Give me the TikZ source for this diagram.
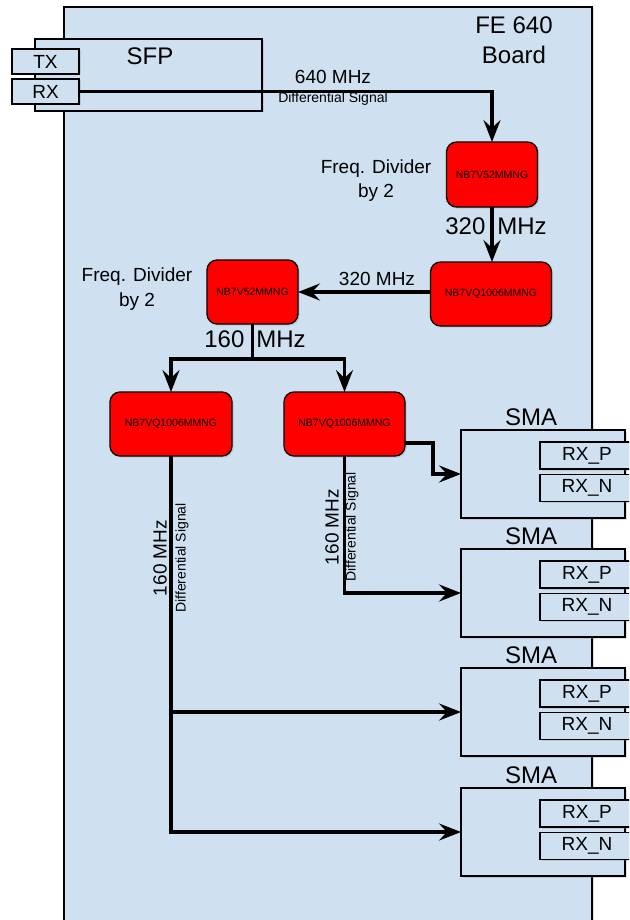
\documentclass[tikz,border=0pt]{standalone}
\usepackage{fontspec}
\setmainfont{Liberation Sans}
\usetikzlibrary{arrows.meta,shadows,calc}
\definecolor{panelblue}{RGB}{207,224,241}
\definecolor{chipred}{RGB}{255,0,0}
\begin{document}
\begin{tikzpicture}[x=1pt,y=-1pt,
  panel/.style={draw=black, line width=1.3pt, fill=panelblue, inner sep=0pt, outer sep=0pt,
    drop shadow={opacity=0.25, shadow xshift=1.5pt, shadow yshift=-1.5pt}},
  port/.style={panel, font=\fontsize{19}{22}\selectfont},
  chip/.style={draw=black, line width=1.3pt, fill=chipred, rounded corners=10pt, inner sep=0pt, outer sep=0pt,
    font=\fontsize{10.5}{12}\selectfont,
    drop shadow={opacity=0.25, shadow xshift=1.5pt, shadow yshift=-1.5pt}},
  bigtxt/.style={font=\fontsize{24}{30}\selectfont, inner sep=0pt},
  midtxt/.style={font=\fontsize{19}{24.5}\selectfont, inner sep=0pt},
  smalltxt/.style={font=\fontsize{14}{16}\selectfont, inner sep=0pt},
  sig/.style={line width=3.5pt, -{Stealth[length=22pt,width=17pt,inset=8pt]}},
  sigline/.style={line width=3.5pt}
]
\useasboundingbox (0,0) rectangle (629,920);
\clip (0,0) rectangle (629,920);

% board
\node[panel, minimum width=528pt, minimum height=930pt] (board) at (328,472) {};
\node[bigtxt, align=center] (title) at (514,40) {FE 640\\Board};

% SFP
\node[panel, minimum width=227pt, minimum height=72pt] (sfp) at (148.5,75) {};
\node[bigtxt] (sfplbl) at (150,56) {SFP};
\node[port, minimum width=67pt, minimum height=25pt] (tx) at (45.5,61.5) {TX};
\node[port, minimum width=67pt, minimum height=25pt] (rx) at (45.5,91.5) {RX};

% chips
\node[chip, minimum width=91pt, minimum height=65pt] (a) at (492,174.5) {NB7V52MMNG};
\node[chip, minimum width=121pt, minimum height=64pt] (b) at (491,294) {NB7VQ1006MMNG};
\node[chip, minimum width=91pt, minimum height=64pt] (c) at (252.5,292) {NB7V52MMNG};
\node[chip, minimum width=122pt, minimum height=64pt] (d) at (171,424) {NB7VQ1006MMNG};
\node[chip, minimum width=121pt, minimum height=64pt] (e) at (344.5,424) {NB7VQ1006MMNG};

% SMA connectors
\foreach \i/\t in {1/430,2/549,3/668,4/788}{
  \node[panel, minimum width=164pt, minimum height=88pt] (sma\i) at (543,\t+44) {};
  \node[bigtxt] (smalbl\i) at (531,\t-13) {SMA};
  \node[port, minimum width=94pt, minimum height=27pt] (rxp\i) at (587,\t+25.5) {RX\_P};
  \node[port, minimum width=94pt, minimum height=27pt] (rxn\i) at (587,\t+58) {RX\_N};
}

% labels
\node[midtxt] (f640) at (333,77) {640 MHz};
\node[smalltxt] (dsig) at (333,99) {Differential Signal};
\node[midtxt, align=center] (fd1) at (376,180.5) {Freq. Divider\\by 2};
\node[bigtxt] (m320a) at (496,226.5) {320\hspace{12pt}MHz};
\node[midtxt] (m320b) at (377,279) {320 MHz};
\node[midtxt, align=center] (fd2) at (137,289) {Freq. Divider\\by 2};
\node[bigtxt] (m160) at (255,339.5) {160\hspace{12pt}MHz};
\node[midtxt, rotate=90] (dl1) at (160,558) {160 MHz};
\node[smalltxt, rotate=90] (dl2) at (182,558) {Differential Signal};
\node[midtxt, rotate=90] (el1) at (332,527) {160 MHz};
\node[smalltxt, rotate=90] (el2) at (352,527) {Differential Signal};

% connectors
\draw[sig] (rx.east) -| (a.north);
\draw[sig] (a.south) -- (a.south |- b.north);
\draw[sig] (b.west |- c.east) -- (c.east);
\coordinate (j) at (c.south |- 0,359);
\draw[sigline] (c.south) -- (j);
\draw[sig] (j) -| (d.north);
\draw[sig] (j) -| (e.north);
\coordinate (eo) at ([yshift=-19pt]e.east);
\draw[sig] (eo) -- ++(28,0) |- (sma1.west);
\draw[sig] (e.south) |- (sma2.west);
\draw[sig] (d.south) |- (sma4.west);
\draw[sig] (d.south |- sma3.west) -- (sma3.west);
\end{tikzpicture}
\end{document}
